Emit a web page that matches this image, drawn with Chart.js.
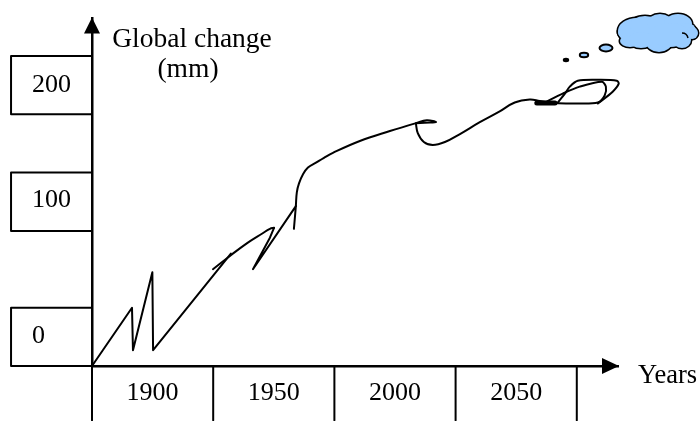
<!DOCTYPE html>
<html>
<head>
<meta charset="utf-8">
<style>
  html, body { margin: 0; background: #fff; }
  canvas { display: block; }
</style>
<script src="https://cdn.jsdelivr.net/npm/chart.js@4"></script>
</head>
<body>
<canvas id="chart" width="700" height="421"></canvas>
<script>
// Hand-drawn curve, one list pair per pen stroke
const zigzagYears = [1875, 1891.5, 1891.9, 1899.9, 1900.2, 1932.3]
const zigzagValues = [0, 45.3, 12.3, 72.9, 12.3, 87.4]
const riseYears = [1924.9, 1932.7, 1939.3, 1945.1, 1948.4, 1950.1]
const riseValues = [75.2, 86.7, 95.9, 102.8, 106.6, 107.4]
const kinkYears = [1950.1, 1948.4, 1941.4, 1959.1, 1958.3, 1959.1]
const kinkValues = [107.4, 99.7, 75.2, 124.3, 106.6, 124.3]
const climbYears = [1959.1, 1959.5, 1960.4, 1962, 1964.1, 1967.4, 1970.7, 1974.4, 1985.5, 1997.9, 2008.6, 2013.1, 2016.9, 2012.3, 2008.6]
const climbValues = [124.3, 135, 141.9, 148.8, 154.2, 158, 161.8, 165.7, 174.9, 182.6, 188.7, 191, 189.5, 189.1, 188.7]
const dipYears = [2008.6, 2009.4, 2011.9, 2015.6, 2020.6, 2026.8, 2035, 2043.2, 2049.4, 2055.6, 2059.7, 2064]
const dipValues = [188.7, 181, 174.1, 171.8, 174.1, 180.3, 189.5, 197.9, 204.8, 207.1, 206, 204.8]
const innerLoopYears = [2061.8, 2069.2, 2076.2, 2085.3, 2087, 2086.5, 2083.7, 2075, 2058.5]
const innerLoopValues = [204.8, 211.7, 217.1, 220.9, 217.1, 210.2, 204.8, 204, 204.8]
const outerLoopYears = [2067.2, 2070.1, 2072.1, 2075.4, 2084.5, 2091.5, 2092.3, 2089.8, 2083.7]
const outerLoopValues = [204.8, 211.7, 217.1, 221.7, 222.4, 221.7, 219.4, 213.2, 204]
const blobYears = [2058.5, 2066]
const blobValues = [204.4, 204.4]

// Axis labels
const xTickYears = [1900, 1950, 2000, 2050]
const xTickLabels = ["1900", "1950", "2000", "2050"]
const yTickValues = [23, 129, 218]
const yTickLabels = ["0", "100", "200"]

// Table cells round the labels
const xDividers = [1875, 1925, 1975, 2025, 2075]
const dividerBottom = -42.2
const boxLeft = 1841.6
const boxRight = 1875
const boxLows = [0, 105, 195.6]
const boxHighs = [45.3, 150.3, 240.9]

const black = "#000000"
const cloudBlue = "#99ccff"

function points(xs, ys) {
  return xs.map((x, i) => ({ x: x, y: ys[i] }))
}

function lineDataset(data, width, tension) {
  return {
    data: data,
    showLine: true,
    borderColor: black,
    borderWidth: width,
    borderCapStyle: "round",
    borderJoinStyle: "round",
    pointRadius: 0,
    tension: tension,
    clip: false,
    spanGaps: false,
  }
}

const dividerPoints = xDividers.flatMap(x => [{ x: x, y: 0 }, { x: x, y: dividerBottom }, { x: x, y: null }])
const boxPoints = boxLows.flatMap((low, i) => [
  { x: boxRight, y: low },
  { x: boxLeft, y: low },
  { x: boxLeft, y: boxHighs[i] },
  { x: boxRight, y: boxHighs[i] },
  { x: boxRight, y: null },
])

// Arrow heads, axis captions and the thought cloud
const decorations = {
  id: "decorations",
  afterDraw(chart) {
    const { ctx, scales } = chart
    const ox = scales.x.getPixelForValue(1875)
    const oy = scales.y.getPixelForValue(0)
    const tipX = scales.x.right
    const tipY = scales.y.top

    ctx.save()
    ctx.fillStyle = black
    ctx.beginPath()
    ctx.moveTo(tipX + 1, oy)
    ctx.lineTo(tipX - 16, oy - 8)
    ctx.lineTo(tipX - 16, oy + 8)
    ctx.closePath()
    ctx.fill()
    ctx.beginPath()
    ctx.moveTo(ox, tipY - 1)
    ctx.lineTo(ox - 8, tipY + 15)
    ctx.lineTo(ox + 8, tipY + 15)
    ctx.closePath()
    ctx.fill()

    ctx.font = '27.5px "Liberation Serif"'
    ctx.textBaseline = "alphabetic"
    ctx.textAlign = "center"
    ctx.fillText("Global change", ox + 100, 47)
    ctx.fillText("(mm)", ox + 96, 77)
    ctx.font = '26.5px "Liberation Serif"'
    ctx.textAlign = "left"
    ctx.fillText("Years", tipX + 20, 383)

    // bubbles
    const bubble = (x, y, rx, ry, fill) => {
      ctx.beginPath()
      ctx.ellipse(x, y, rx, ry, 0, 0, Math.PI * 2)
      ctx.fillStyle = fill
      ctx.fill()
      ctx.lineWidth = 2
      ctx.strokeStyle = black
      ctx.stroke()
    }
    bubble(tipX - 12, 48, 6.5, 3.5, cloudBlue)
    bubble(tipX - 34, 55, 4.2, 2.2, cloudBlue)
    bubble(tipX - 52, 60, 2.2, 1.2, black)

    // cloud: outline of overlapping lobes, then fill over the inner strokes
    const lobes = [
      [637, 31, 19, 13], [627, 32, 9, 7], [630, 41, 10, 6], [645, 25, 15, 9], [660, 23, 13, 9], [678, 24, 14, 10],
      [687, 31, 9, 8], [692, 33, 6, 6], [682, 40, 9, 8], [659, 42, 13, 10], [641, 40, 12, 8], [670, 35, 20, 12],
    ]
    const trace = ([x, y, rx, ry]) => {
      ctx.beginPath()
      ctx.ellipse(x, y, rx, ry, 0, 0, Math.PI * 2)
    }
    ctx.strokeStyle = black
    ctx.lineWidth = 3
    lobes.forEach(l => { trace(l); ctx.stroke() })
    ctx.fillStyle = cloudBlue
    lobes.forEach(l => { trace(l); ctx.fill() })

    // small curl on the right of the cloud
    ctx.lineWidth = 1.5
    ctx.beginPath()
    ctx.moveTo(682, 33)
    ctx.quadraticCurveTo(687, 33, 688, 38)
    ctx.stroke()
    ctx.restore()
  },
}

new Chart(document.getElementById("chart"), {
  type: "scatter",
  data: {
    datasets: [
      lineDataset(boxPoints, 2, 0),
      lineDataset(dividerPoints, 2, 0),
      lineDataset(points(zigzagYears, zigzagValues), 2, 0),
      lineDataset(points(riseYears, riseValues), 2, 0.4),
      lineDataset(points(kinkYears, kinkValues), 2, 0),
      lineDataset(points(climbYears, climbValues), 2, 0.4),
      lineDataset(points(dipYears, dipValues), 2, 0.4),
      lineDataset(points(innerLoopYears, innerLoopValues), 2, 0.3),
      lineDataset(points(outerLoopYears, outerLoopValues), 2, 0.3),
      lineDataset(points(blobYears, blobValues), 5, 0),
    ],
  },
  plugins: [decorations],
  options: {
    responsive: false,
    animation: false,
    layout: { padding: { left: 32, right: 82, top: 14, bottom: 0 } },
    plugins: { legend: { display: false }, tooltip: { enabled: false } },
    scales: {
      x: {
        type: "linear",
        min: 1875,
        max: 2092,
        grid: { display: false, drawTicks: false },
        border: { color: black, width: 2.5 },
        afterBuildTicks(scale) {
          scale.ticks = xTickYears.map(v => ({ value: v }))
        },
        afterFit(scale) {
          scale.height = 55
        },
        ticks: {
          color: black,
          font: { family: "Liberation Serif", size: 26 },
          padding: 12,
          autoSkip: false,
          maxRotation: 0,
          callback: (value, i) => xTickLabels[i],
        },
      },
      y: {
        type: "linear",
        min: 0,
        max: 270,
        grid: { display: false, drawTicks: false },
        border: { color: black, width: 2.5 },
        afterBuildTicks(scale) {
          scale.ticks = yTickValues.map(v => ({ value: v }))
        },
        afterFit(scale) {
          scale.width = 60
        },
        ticks: {
          color: black,
          font: { family: "Liberation Serif", size: 26 },
          crossAlign: "far",
          autoSkip: false,
          callback: (value, i) => yTickLabels[i],
        },
      },
    },
  },
})
</script>
</body>
</html>
